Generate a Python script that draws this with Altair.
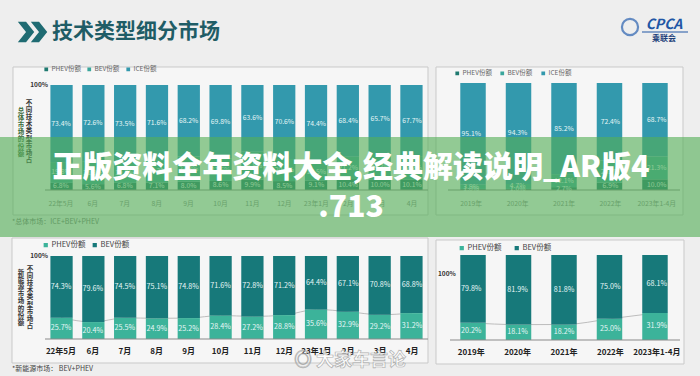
import altair as alt
import pandas as pd

FONT = "Noto Sans CJK SC"

# ---------------- data ----------------
months = ["22年5月", "6月", "7月", "8月", "9月", "10月", "11月", "12月", "23年1月", "2月", "3月", "4月"]
years = ["2019年", "2020年", "2021年", "2022年", "2023年1-4月"]

# share of total market (%)
ice_m = [73.4, 72.6, 73.5, 71.6, 68.2, 69.8, 63.6, 70.6, 74.4, 68.4, 65.7, 67.7]
bev_m = [19.8, 21.8, 19.7, 21.3, 23.8, 21.6, 26.5, 20.9, 16.5, 21.2, 24.3, 22.2]
phev_m = [6.8, 5.6, 6.8, 7.1, 8.0, 8.6, 9.9, 8.5, 9.1, 10.4, 10.0, 10.1]

ice_y = [95.1, 94.3, 85.2, 72.4, 68.7]
bev_y = [3.9, 4.7, 12.1, 20.7, 21.3]
phev_y = [1.0, 1.0, 2.7, 6.9, 10.0]

# share of new-energy market (%)
nev_bev_m = [74.3, 79.6, 74.5, 75.1, 74.8, 71.6, 72.8, 71.2, 64.4, 67.1, 70.8, 68.8]
nev_phev_m = [25.7, 20.4, 25.5, 24.9, 25.2, 28.4, 27.2, 28.8, 35.6, 32.9, 29.2, 31.2]
nev_bev_y = [79.8, 81.9, 81.8, 75.0, 68.1]
nev_phev_y = [20.2, 18.1, 18.2, 25.0, 31.9]

series_top_names = ["PHEV份额", "BEV份额", "ICE份额"]
series_bot_names = ["PHEV份额", "BEV份额"]

title_text = "技术类型细分市场"
ytitle_top = ["不同技术类型市场占", "总体市场的份额"]
ytitle_bot = ["不同技术类型市场占", "新能源市场的份额"]
note_top = "*总体市场：ICE+BEV+PHEV"
note_bot = "*新能源市场： BEV+PHEV"
banner_line1 = "正版资料全年资料大全,经典解读说明_AR版4"
banner_line2 = ".713"

TOP_COLORS = ["#1f7a70", "#3aa69c", "#3399ad"]
BOT_COLORS = ["#3cb39a", "#17797a"]

one = pd.DataFrame({"z": [0]})


def long_df(cats, names, values):
    rows = []
    for k, (name, vals) in enumerate(zip(names, values)):
        for c, v in zip(cats, vals):
            rows.append({"cat": c, "series": name, "order": k, "value": v})
    return pd.DataFrame(rows)


def panel(cats, names, values, colors, xr, pin, pout, yr, leg, axis_x, lab_size,
          xlab, trend, pct_label):
    df = long_df(cats, names, values)

    def xs():
        return alt.Scale(domain=cats, range=xr, paddingInner=pin, paddingOuter=pout)

    def ys():
        return alt.Scale(domain=[0, 100], range=yr, nice=False, zero=False)

    base = alt.Chart(df).transform_stack(
        stack="value", groupby=["cat"], as_=["v0", "v1"], sort=[alt.SortField("order")]
    ).transform_calculate(
        mid="(datum.v0 + datum.v1) / 2",
        label="format(datum.value, '.1f') + '%'"
    )
    out = []
    if trend:
        out.append(base.transform_filter("datum.order == 0").mark_line(
            color="#b5b5b5", strokeWidth=0.9, interpolate="monotone").encode(
            x=alt.X("cat:N", scale=xs(), axis=None),
            y=alt.Y("v1:Q", scale=ys(), axis=None)))
    out.append(base.mark_bar().encode(
        x=alt.X("cat:N", scale=xs(), axis=None),
        y=alt.Y("v0:Q", scale=ys(), axis=None),
        y2="v1:Q",
        color=alt.Color("series:N", scale=alt.Scale(domain=names, range=colors),
                        legend=alt.Legend(orient="none", legendX=leg[0], legendY=leg[1],
                                          direction="horizontal", title=None,
                                          symbolType="square", symbolSize=leg[2],
                                          labelFontSize=leg[3], labelColor=leg[4],
                                          labelFont=FONT, columnPadding=leg[5],
                                          labelOffset=2, padding=0)),
    ))
    out.append(alt.Chart(one).mark_rule(color="#8a8a8a", strokeWidth=1).encode(
        x=alt.value(axis_x[0]), x2=alt.value(axis_x[1]),
        y=alt.YDatum(0, scale=ys(), axis=None)))
    out.append(base.mark_text(fontSize=lab_size, color="#e6f6f6", font=FONT).encode(
        x=alt.X("cat:N", scale=xs(), axis=None),
        y=alt.Y("mid:Q", scale=ys(), axis=None), text="label:N"))
    out.append(base.transform_filter("datum.order == 0").mark_text(
        fontSize=xlab[0], color=xlab[1], fontWeight=xlab[2], dy=xlab[3], font=FONT).encode(
        x=alt.X("cat:N", scale=xs(), axis=None),
        y=alt.YDatum(0, scale=ys(), axis=None), text="cat:N"))
    if pct_label is not None:
        out.append(alt.Chart(one).mark_text(
            fontSize=6.5, fontWeight="bold", color="#333", align=pct_label[2],
            dy=pct_label[1], font=FONT, text="100%").encode(
            x=alt.value(pct_label[0]), y=alt.YDatum(100, scale=ys(), axis=None)))
    return out


def box(x0, y0, x1, y1):
    return alt.Chart(one).mark_rect(fill="#f6f6f6", stroke="#c9c9c9", strokeWidth=1).encode(
        x=alt.value(x0), x2=alt.value(x1), y=alt.value(y0), y2=alt.value(y1))


def vtext(txt, x, y, size=6.5, color="#333"):
    return alt.Chart(one).mark_text(
        text="\n".join(list(txt)), lineBreak="\n", fontSize=size, lineHeight=size + 0.6,
        baseline="top", align="center", fontWeight="bold", color=color, font=FONT
    ).encode(x=alt.value(x), y=alt.value(y))


def label(txt, x, y, size, color, weight="normal", align="left", baseline="middle", **kw):
    return alt.Chart(one).mark_text(
        text=txt, fontSize=size, color=color, fontWeight=weight, align=align,
        baseline=baseline, font=FONT, **kw
    ).encode(x=alt.value(x), y=alt.value(y))


layers = [
    box(13, 67, 428, 215), box(436, 67, 683, 215),
    box(12, 238, 428, 363), box(436, 240, 684, 364),
]

chev = "M-0.7,-1 L0.1,-1 L0.9,0 L0.1,1 L-0.7,1 L0.1,0 Z"
layers += [
    alt.Chart(one).mark_point(shape=chev, filled=True, color="#1f6b72", size=420, opacity=1).encode(
        x=alt.value(25), y=alt.value(32)),
    alt.Chart(one).mark_point(shape=chev, filled=True, color="#1f6b72", size=420, opacity=1).encode(
        x=alt.value(38), y=alt.value(32)),
    label(title_text, 52, 32, 21, "#1f5d66", "bold"),
    # logo
    alt.Chart(one).mark_point(shape="circle", filled=False, color="#2a62b0", size=260,
                              strokeWidth=2.2).encode(x=alt.value(630), y=alt.value(27)),
    label("CPCA", 664, 25, 14, "#2156a5", "bold", align="center", fontStyle="italic"),
    alt.Chart(one).mark_rule(color="#2156a5", strokeWidth=1).encode(
        x=alt.value(642), x2=alt.value(688), y=alt.value(32)),
    label("乘联会", 664, 39, 8, "#1d3f7a", "bold", align="center"),
]

layers += panel(months, series_top_names, [phev_m, bev_m, ice_m], TOP_COLORS,
                [45, 428], 0.3, 0.17, [190, 85], (43, 66, 14, 6.5, "#666", 5), (45, 428), 6.8,
                (6.8, "#8a8a8a", "normal", 14), False, (48, 0, "right"))
layers += panel(years, series_top_names, [phev_y, bev_y, ice_y], TOP_COLORS,
                [448, 680], 0.44, 0.27, [190, 83], (454, 70, 14, 6.5, "#666", 7), (448, 680), 6.8,
                (6.8, "#8a8a8a", "normal", 14), False, None)
layers += panel(months, series_bot_names, [nev_phev_m, nev_bev_m], BOT_COLORS,
                [45, 428], 0.3, 0.17, [339, 256], (42, 241, 18, 7.5, "#444", 5), (45, 428), 7.2,
                (8, "#222", "bold", 13), True, (48, 0, "right"))
layers += panel(years, series_bot_names, [nev_phev_y, nev_bev_y], BOT_COLORS,
                [448, 680], 0.44, 0.27, [340, 255], (458, 244, 18, 7.5, "#444", 11), (450, 680), 7.2,
                (8, "#222", "bold", 13), True, (438, 19, "left"))

layers += [
    vtext(ytitle_top[0], 29, 100), vtext(ytitle_top[1], 21, 108, color="#3a6b3a"),
    vtext(ytitle_bot[0], 30, 266), vtext(ytitle_bot[1], 21, 270),
    label(note_top, 12, 222, 7, "#777"),
    label(note_bot, 12, 369, 7, "#444"),
    # banner overlay
    alt.Chart(one).mark_rect(fill="#54ae57", opacity=0.62).encode(
        x=alt.value(0), x2=alt.value(700), y=alt.value(137), y2=alt.value(237)),
    label(banner_line1, 351, 168, 30, "#ffffff", 900, align="center"),
    label(banner_line2, 351, 208, 30, "#ffffff", 900, align="center"),
    # watermark
    label("◎ 大家车言论", 350, 361, 18, "#ffffff", "bold", align="center",
          stroke="#a0a0a0", strokeWidth=0.7, opacity=0.8),
]

chart = alt.layer(*layers).resolve_scale(
    x="independent", y="independent", color="independent"
).properties(
    width=700, height=376, padding=0,
    autosize=alt.AutoSizeParams(type="none"),
    background="#eeeeee",
).configure_view(stroke=None)

chart.save("out.html", embed_options={"renderer": "svg", "actions": False})
